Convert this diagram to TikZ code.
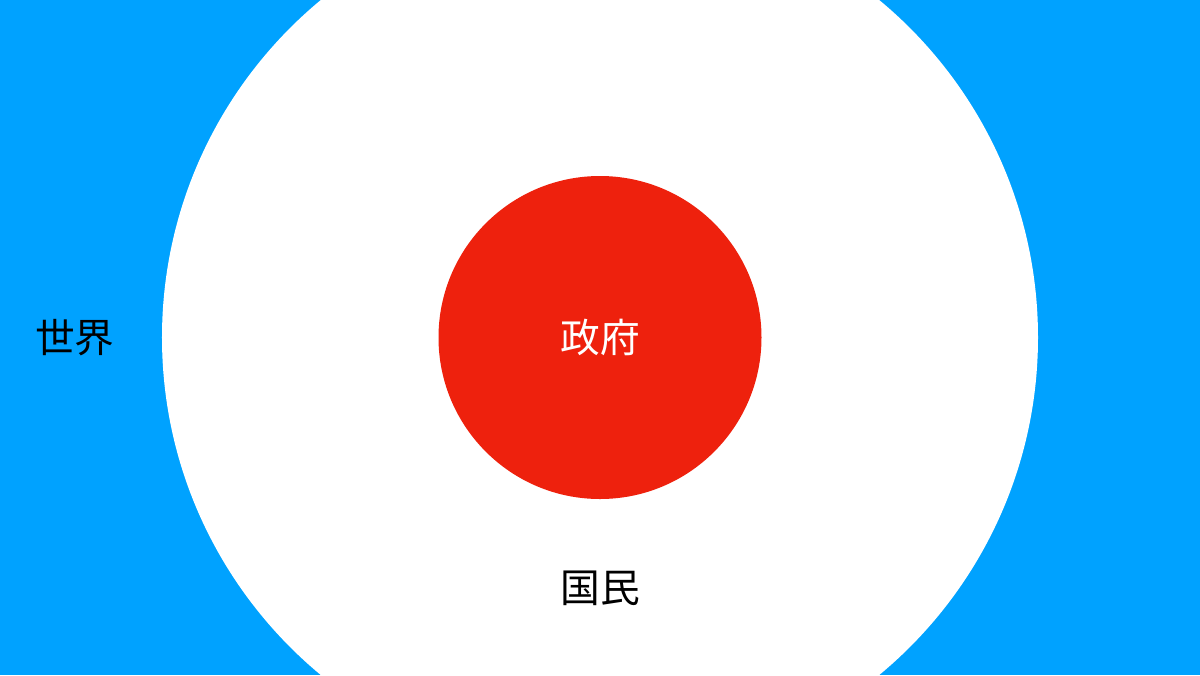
\documentclass[tikz,border=0pt]{standalone}
\usepackage{fontspec}
\usepackage{tikz}
\newfontfamily\cjk{Noto Sans CJK JP}
\definecolor{worldblue}{HTML}{00A2FF}
\definecolor{govred}{HTML}{EE210D}

\begin{document}
\begin{tikzpicture}[label text/.style={font=\cjk\fontsize{22.6}{27}\selectfont}]
    \clip (-12,-6.75) rectangle (12,6.75);
    \fill[worldblue] (-12,-6.75) rectangle (12,6.75);
    \fill[white] (0,0) circle (8.76);
    \fill[govred] (0,0) circle (3.23);
    \node[label text] (world) at (-10.5,0) {世界};
    \node[label text, text=white] (gov) at (0,0) {政府};
    \node[label text] (people) at (0,-5.02) {国民};
\end{tikzpicture}
\end{document}
